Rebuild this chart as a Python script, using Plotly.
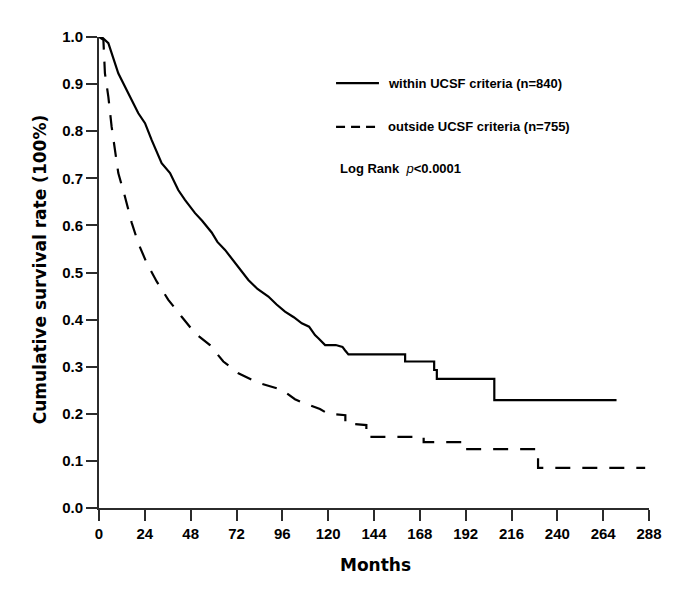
import plotly.graph_objects as go

# Kaplan-Meier estimates (months, cumulative survival)
months_within = [0, 1.4, 4.9, 10.1, 15.4, 20.6, 24.1, 27.6, 32.8, 37.2,
                 41.5, 45.0, 50.3, 54.0, 59.0, 62.0, 66.0, 71.2, 75.0, 78.2,
                 83.0, 88.7, 93.0, 97.4, 102.0, 106.2, 110.0, 113.1, 115.0, 118.4,
                 124.0, 127.5, 128.8, 130.6, 160.3, 160.3, 175.5, 175.5, 176.9, 176.9,
                 207.0, 207.0, 271.0]
surv_within = [1.0, 1.0, 0.987, 0.923, 0.880, 0.838, 0.817, 0.781, 0.732, 0.711,
               0.675, 0.654, 0.626, 0.610, 0.585, 0.565, 0.548, 0.520, 0.500, 0.484,
               0.465, 0.449, 0.432, 0.417, 0.405, 0.392, 0.385, 0.367, 0.360, 0.346,
               0.346, 0.342, 0.335, 0.326, 0.326, 0.311, 0.311, 0.293, 0.293, 0.274,
               0.274, 0.229, 0.229]

months_outside = [0, 2.3, 3.1, 4.9, 6.6, 8.4, 10.1, 13.6, 17.1, 20.6,
                  25.0, 30.2, 36.3, 43.3, 50.3, 58.1, 65.1, 73.0, 83.4, 95.7,
                  102.6, 105.3, 115.7, 120.0, 129.0, 129.0, 140.0, 140.0, 170.0, 170.0,
                  190.6, 190.6, 229.9, 229.9, 286.0]
surv_outside = [1.0, 0.994, 0.923, 0.873, 0.810, 0.760, 0.711, 0.661, 0.606, 0.562,
                0.520, 0.481, 0.442, 0.406, 0.371, 0.346, 0.311, 0.286, 0.266, 0.251,
                0.231, 0.226, 0.210, 0.200, 0.197, 0.180, 0.176, 0.151, 0.151, 0.140,
                0.140, 0.125, 0.125, 0.085, 0.085]

x_ticks = list(range(0, 289, 24))
legend_labels = ["within UCSF criteria (n=840)", "outside UCSF criteria (n=755)"]

FONT = "Liberation Sans, Arial, sans-serif"
TITLE_FONT = "DejaVu Sans, Verdana, sans-serif"
AX = "#2b2b2b"

fig = go.Figure()

fig.add_trace(go.Scatter(x=months_within, y=surv_within, mode="lines",
                         line=dict(color="black", width=2.2),
                         name=legend_labels[0], showlegend=False))
fig.add_trace(go.Scatter(x=months_outside, y=surv_outside, mode="lines",
                         line=dict(color="black", width=2.2, dash="15px,12px"),
                         name=legend_labels[1], showlegend=False))

# hand-drawn legend, like the original
fig.add_shape(type="line", xref="paper", yref="paper", x0=0.431, x1=0.509,
              y0=0.902, y1=0.902, line=dict(color="black", width=2.2))
fig.add_shape(type="line", xref="paper", yref="paper", x0=0.431, x1=0.509,
              y0=0.809, y1=0.809, line=dict(color="black", width=2.2, dash="9px,6px"))
for txt, yy in zip(legend_labels, [0.902, 0.809]):
    fig.add_annotation(text=f"<b>{txt}</b>", xref="paper", yref="paper",
                       x=0.522, y=yy, xanchor="left", yanchor="middle",
                       showarrow=False, font=dict(family=FONT, size=13, color="black"))
fig.add_annotation(text="<b>Log Rank</b>  " + "<i>p</i>" + "<b>&lt;0.0001</b>",
                   xref="paper", yref="paper", x=0.435, y=0.720,
                   xanchor="left", yanchor="middle", showarrow=False,
                   font=dict(family=FONT, size=13, color="black"))

# axis titles
fig.add_annotation(text="<b>Cumulative survival rate (100%)</b>", xref="paper", yref="paper",
                   x=-0.107, y=0.505, textangle=-90, showarrow=False,
                   xanchor="center", yanchor="middle",
                   font=dict(family=TITLE_FONT, size=17, color="black"))
fig.add_annotation(text="<b>Months</b>", xref="paper", yref="paper",
                   x=0.502, y=-0.12, showarrow=False,
                   xanchor="center", yanchor="middle",
                   font=dict(family=TITLE_FONT, size=17, color="black"))

fig.update_xaxes(range=[0, 288], tickvals=x_ticks, showgrid=False, zeroline=False,
                 showline=True, linewidth=2, linecolor=AX,
                 ticks="outside", ticklen=11, tickwidth=2, tickcolor=AX,
                 tickfont=dict(family=FONT, size=15, color="black", weight="bold"))
fig.update_yaxes(range=[0, 1], dtick=0.1, tickformat=".1f", showgrid=False, zeroline=False,
                 showline=True, linewidth=2, linecolor=AX,
                 ticks="outside", ticklen=11, tickwidth=2, tickcolor=AX,
                 tickfont=dict(family=FONT, size=15, color="black", weight="bold"))

# the page adds an 8px body margin, so the margins are shifted to compensate
fig.update_layout(width=685, height=594,
                  margin=dict(l=91, r=44, t=29, b=94),
                  paper_bgcolor="white", plot_bgcolor="white",
                  showlegend=False)

fig.write_html("out.html")
